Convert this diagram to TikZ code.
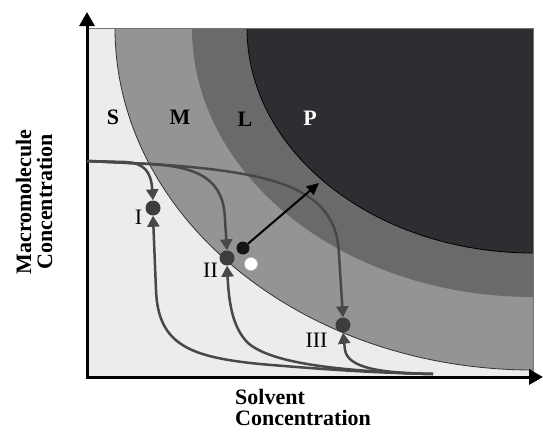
\documentclass[tikz,border=0pt]{standalone}
\usepackage{fontspec}
\setmainfont{Liberation Serif}
\usetikzlibrary{arrows.meta}
\definecolor{solgray}{RGB}{236,236,236}
\definecolor{midgray}{RGB}{148,148,148}
\definecolor{liqgray}{RGB}{106,106,106}
\definecolor{pptgray}{RGB}{46,46,50}
\definecolor{flowgray}{RGB}{72,72,72}

\begin{document}
\begin{tikzpicture}[
        x=1pt, y=-1pt,
        axis/.style={line width=3pt, {Triangle[length=14pt,width=15pt]}-{Triangle[length=14pt,width=15pt]}},
        flow/.style={draw=flowgray, line width=2.5pt, -{Triangle[length=11pt,width=12pt]}},
        push/.style={draw=black, line width=2pt, -{Triangle[length=12pt,width=11pt]}},
        state/.style={circle, fill=flowgray!85!black, minimum size=15pt, inner sep=0pt},
        region/.style={font=\bfseries\fontsize{22}{22}\selectfont, inner sep=0pt},
        tag/.style={font=\fontsize{22}{22}\selectfont, inner sep=0pt},
        axislabel/.style={font=\bfseries\fontsize{22}{21}\selectfont, inner sep=0pt}
    ]
        \useasboundingbox (0,0) rectangle (543,432);

        % phase regions
        \fill[solgray] (87,28) rectangle (533,377);
        \begin{scope}
            \clip (87,28) rectangle (533,377);
            \filldraw[fill=midgray, draw=black!80, line width=0.8pt] (533,28) ellipse [x radius=418pt, y radius=342pt];
            \fill[liqgray] (533,28) ellipse [x radius=341pt, y radius=269pt];
            \filldraw[fill=pptgray, draw=black, line width=0.8pt] (533,28) ellipse [x radius=286pt, y radius=225pt];
        \end{scope}
        \draw[black!55, line width=0.6pt] (87,28) -- (533,28) -- (533,377);

        % axes
        \coordinate (O) at (87,377);
        \coordinate (YTIP) at (87,12);
        \coordinate (XTIP) at (543,377);
        \draw[axis] (YTIP) -- (O) -- (XTIP);

        % states
        \node[state] (ONE) at (153,208) {};
        \node[state] (TWO) at (227,258) {};
        \node[state] (THREE) at (343,325) {};
        \node[circle, fill=black!92, minimum size=13pt, inner sep=0pt] (BLACK) at (243,248) {};
        \node[circle, fill=white, draw=black!25, line width=0.4pt, minimum size=13pt, inner sep=0pt] (WHITE) at (251,264) {};
        \coordinate (SRC) at (87,161);
        \coordinate (SINK) at (433,374);
        \coordinate (TIP) at (319,183);

        % paths from above
        \draw[flow] (SRC) -- (125,162) .. controls (145,163) and (151,172) .. (ONE.north);
        \draw[flow] (SRC) -- (150,164) .. controls (200,167) and (224,180) .. (225,220) -- (TWO.north);
        \draw[flow] (SRC) -- (150,164) .. controls (285,172) and (337,192) .. (339,255) -- (THREE.north);

        % paths from below
        \draw[flow] (SINK) .. controls (380,373) and (330,370) .. (260,364) .. controls (190,357) and (158,345) .. (156,290) -- (ONE.south);
        \draw[flow] (SINK) .. controls (330,371) and (270,362) .. (248,343) .. controls (233,328) and (229,305) .. (TWO.south);
        \draw[flow] (SINK) .. controls (380,373) and (348,368) .. (345,350) -- (THREE.south);

        \draw[push] (BLACK) -- (TIP);

        % labels
        \node[region] (S) at (113,117) {S};
        \node[region] (M) at (180,117) {M};
        \node[region] (L) at (245,119) {L};
        \node[region, text=white] (P) at (310,118) {P};
        \node[tag] (LBLONE) at (138.5,217.5) {I};
        \node[tag] (LBLTWO) at (210.5,270.5) {II};
        \node[tag] (LBLTHREE) at (316.5,340.5) {III};

        \node[axislabel, rotate=90, align=center] (YLAB) at (34,202) {Macromolecule\\Concentration};
        \node[axislabel, anchor=north west, align=left] (XLAB) at (235,389) {Solvent\\Concentration};
    \end{tikzpicture}
\end{document}
